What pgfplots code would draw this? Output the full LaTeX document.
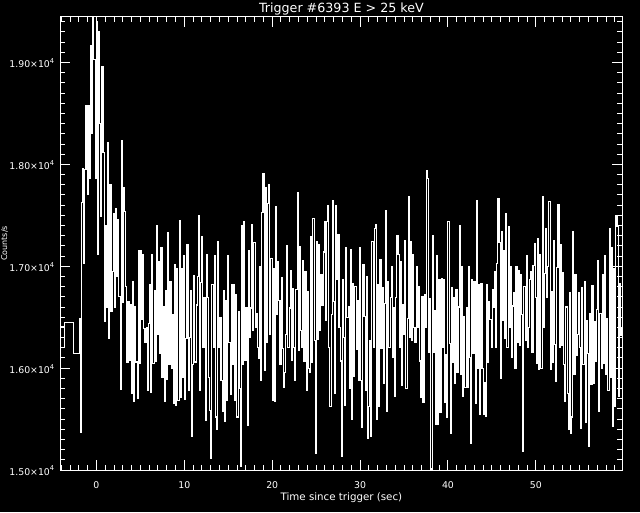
\documentclass[border=0pt]{standalone}
\usepackage{fontspec}
\setmainfont{DejaVu Sans}
\usepackage{pgfplots}
\usepackage{pgfplotstable}
\pgfplotsset{compat=1.18}

\pgfplotstableread{
r
16490
15370
17630
17960
17030
17950
18580
17700
18580
17860
19170
18300
19460
19030
17860
19400
17120
19300
18400
17490
18960
18120
16460
17400
16600
18210
16290
17800
16560
16950
17520
16600
17570
16900
17460
16700
15790
18230
16640
17770
17540
16800
16060
16650
16080
16620
15750
16850
15670
16600
16060
15700
17150
16050
17150
16480
17120
16390
16250
16400
15780
16440
16820
15760
17120
16050
16760
16070
17400
16330
17050
16140
17180
15910
16600
15670
16760
15890
17330
16040
16850
16000
16530
15650
17020
15630
16980
15680
17450
15710
16980
15910
17110
15690
16290
17210
15780
16300
16760
15330
16040
16910
16060
16620
16900
17500
15780
16840
17290
16200
16690
15490
17120
16690
15910
15580
15110
16820
16200
17110
15520
15400
17240
16200
16500
15880
15570
16760
15480
16660
15680
17110
16250
15740
16820
16040
16820
15680
16720
15520
16560
15800
15030
17400
16040
17440
16080
16590
15440
17150
16300
16590
17410
16370
17230
16400
16540
16200
16090
17000
15880
17530
17910
15980
17770
16250
17620
17800
16330
17080
15680
16980
15670
17590
16530
17050
16660
16040
16890
16190
15810
15960
16330
17200
16200
16590
16960
16080
16780
16200
15880
16770
17720
16170
17190
16370
16200
17060
16070
16950
15780
16750
16000
15960
17290
16060
17470
16270
15160
17240
16280
17210
16370
16920
16620
17140
17440
16470
17440
17600
16200
15620
16530
17650
16650
15750
17600
16870
17310
16400
16070
15130
16870
16300
15630
17180
16500
16600
15800
17160
15500
16830
15920
16800
16180
16660
15880
17180
15880
15420
17020
16510
15780
16900
15310
15620
16270
15330
17240
16200
17370
17410
15500
16820
15620
17070
16190
16790
15850
16630
17550
15570
16850
16200
16690
17000
16100
16590
15720
16690
17300
17120
16200
17050
15830
16620
16330
17250
15800
16490
17680
16300
17240
16270
17120
16400
16250
17000
16400
16800
16070
15710
16700
15660
16720
16400
17940
17860
16150
16680
15010
17300
16150
16570
15450
17110
15450
16870
15560
16880
16200
16870
15660
16130
15520
17440
16240
15360
16790
16060
16690
15850
16770
15960
16600
17400
15940
17000
15720
16510
15810
16590
15810
17000
16100
15260
16870
16140
16850
15650
17650
16000
16820
15550
16830
16000
15550
15860
15530
16820
16060
16650
16480
16200
16770
16600
16950
16200
17030
17660
17230
15900
17340
16470
17150
16290
17520
16200
17390
16400
17000
16100
16610
16740
16000
17000
16250
16960
16220
16920
16530
15180
16800
16270
17110
16200
16400
16870
16950
16150
17010
17220
16690
16050
17270
15990
17120
16000
17680
16400
16930
17370
16690
17000
17640
15990
16750
16060
17250
16230
15870
16990
17610
16200
17210
16220
16940
16040
15670
16600
15750
15400
16740
15360
15520
17340
15940
16920
16120
16330
16740
16200
15410
16790
16040
16850
15470
16470
16140
15230
16540
15840
16810
15850
16460
16070
16580
17060
15570
16540
16000
16920
16050
17110
15940
16490
15780
17370
15910
17180
15430
16980
15620
17500
17390
15720
16830
16320
16390
16390
}\lc

\begin{document}
\begin{tikzpicture}
\useasboundingbox (0,0) rectangle (480pt,384pt);
\fill[black] (0,0) rectangle (480pt,384pt);
\begin{axis}[
  at={(45.3pt,31.5pt)}, anchor=south west,
  width=421.5pt, height=340pt, scale only axis,
  xmin=-4.1, xmax=59.85, ymin=15000, ymax=19450,
  scaled y ticks=false, scaled x ticks=false,
  axis line style={white, line width=0.75pt},
  every tick/.append style={white, line width=0.75pt},
  every minor tick/.append style={white, line width=0.75pt},
  major tick length=7.5pt, minor tick length=3.75pt,
  xtick={0,10,20,30,40,50}, xticklabels={0,10,20,30,40,50},
  ytick={15000,16000,17000,18000,19000},
  yticklabels={1.50×10\textsuperscript{4},1.60×10\textsuperscript{4},1.70×10\textsuperscript{4},1.80×10\textsuperscript{4},1.90×10\textsuperscript{4}},
  minor xtick={-4,-3,...,59},
  minor ytick={15100,15200,...,19400},
  tick label style={text=white, font=\fontsize{7}{8}\selectfont},
  xticklabel style={anchor=base, yshift=-13.7pt},
  yticklabel style={anchor=base east, inner sep=0pt, xshift=-4pt, yshift=-3.75pt},
]
\addplot[white, line width=0.8pt, const plot mark left] table[x expr={-1.96+0.1291*\coordindex}, y=r]{\lc};
\addplot[white, line width=0.8pt, const plot mark left] coordinates {(-4.1,16203) (-3.65,16447) (-2.62,16144) (-1.96,16490)};
\addplot[white, line width=0.8pt] coordinates {(-4.1,16410) (-3.65,16410)};
\end{axis}
\node[text=white, anchor=base, inner sep=0pt, font=\fontsize{9.5}{11}\selectfont] at (256.05pt,374.5pt) {Trigger \#6393 E > 25 keV};
\node[text=white, anchor=base, inner sep=0pt, font=\fontsize{7.7}{9}\selectfont] at (256.05pt,8.5pt) {Time since trigger (sec)};
\node[text=white, rotate=90, anchor=north, inner sep=0pt, font=\fontsize{6}{7}\selectfont] at (0.6pt,201.4pt) {Counts/s};
\end{tikzpicture}
\end{document}
